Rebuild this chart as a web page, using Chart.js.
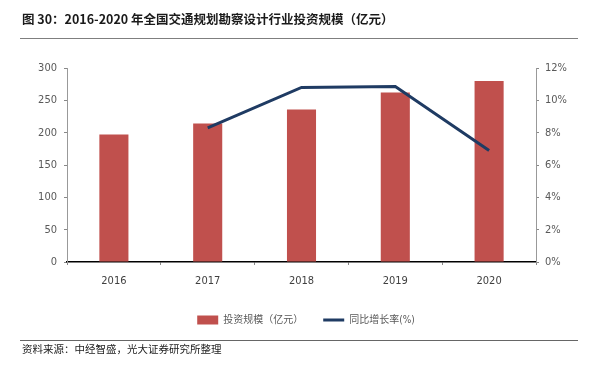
<!DOCTYPE html>
<html>
<head>
<meta charset="utf-8">
<script src="https://cdn.jsdelivr.net/npm/chart.js@4.4.1/dist/chart.umd.min.js"></script>
<style>
    html, body { margin: 0; padding: 0; background: #fff; }
    #wrap { position: relative; width: 595px; height: 372px; overflow: hidden; }
    #chart { position: absolute; left: 0; top: 0; }
    .title {
        position: absolute; left: 22px; top: 9px;
        font: bold 12.5px 'Noto Sans CJK SC', 'Noto Sans', sans-serif; color: #1a1a1a;
        white-space: nowrap;
    }
    .rule { position: absolute; left: 20px; width: 558px; }
    .source {
        position: absolute; left: 22px; top: 341px;
        font: 10.5px 'Noto Sans CJK SC', sans-serif; color: #222; white-space: nowrap;
    }
</style>
</head>
<body>
<div id="wrap">
    <canvas id="chart" width="595" height="372"></canvas>
    <div class="title">图 30：2016-2020 年全国交通规划勘察设计行业投资规模（亿元）</div>
    <div class="rule" style="top:38px;border-top:1.5px solid #7f7f7f;"></div>
    <div class="rule" style="top:340px;border-top:1px solid #666;"></div>
    <div class="source">资料来源：中经智盛，光大证券研究所整理</div>
</div>
<script>
    // --- data ---
    const years = ['2016', '2017', '2018', '2019', '2020'];
    const investScale = [197, 214, 236, 262, 280];        // 亿元
    const growthRate = [null, 8.3, 10.8, 10.85, 6.9];      // %
    const leftTicks = [0, 50, 100, 150, 200, 250, 300];
    const rightTicks = [0, 2, 4, 6, 8, 10, 12];
    const seriesNames = ['投资规模（亿元）', '同比增长率(%)'];

    const barColor = '#C0504D';
    const lineColor = '#1F3B63';
    const narrowFamily = "'Liberation Sans Narrow', 'DejaVu Sans Condensed', 'Liberation Sans', 'Noto Sans CJK SC', sans-serif";
    const tickFont = { family: narrowFamily, size: 11 };

    const ctx = document.getElementById('chart').getContext('2d');
    new Chart(ctx, {
        data: {
            labels: years,
            datasets: [
                {
                    type: 'bar',
                    label: seriesNames[0],
                    data: investScale,
                    backgroundColor: barColor,
                    borderWidth: 0,
                    categoryPercentage: 1,
                    barPercentage: 0.31,
                    yAxisID: 'y',
                    order: 2
                },
                {
                    type: 'line',
                    label: seriesNames[1],
                    data: growthRate,
                    borderColor: lineColor,
                    borderWidth: 3,
                    pointRadius: 0,
                    tension: 0,
                    yAxisID: 'y1',
                    order: 1
                }
            ]
        },
        options: {
            responsive: false,
            animation: false,
            layout: { padding: { top: 68, left: 17, right: 0, bottom: 37 } },
            plugins: {
                tooltip: { enabled: false },
                legend: {
                    position: 'bottom',
                    labels: {
                        color: '#595959',
                        font: { family: narrowFamily, size: 10 },
                        usePointStyle: true,
                        pointStyleWidth: 21,
                        boxWidth: 21,
                        boxHeight: 9,
                        padding: 20,
                        generateLabels: function(chart) {
                            // bar first, line second, like the reference
                            return [
                                { text: seriesNames[0], fillStyle: barColor, strokeStyle: barColor, lineWidth: 0, pointStyle: 'rect', datasetIndex: 0, fontColor: '#595959' },
                                { text: seriesNames[1], fillStyle: lineColor, strokeStyle: lineColor, lineWidth: 3, pointStyle: 'line', datasetIndex: 1, fontColor: '#595959' }
                            ];
                        }
                    }
                }
            },
            scales: {
                x: {
                    grid: { display: true, drawOnChartArea: false, tickLength: 3, color: '#888' },
                    border: { color: '#000', width: 1.5 },
                    ticks: { color: '#404040', font: tickFont, padding: 10 },
                    afterFit: function(s) { s.height = 33; }
                },
                y: {
                    position: 'left',
                    min: 0, max: 300,
                    afterBuildTicks: function(s) { s.ticks = leftTicks.map(v => ({ value: v })); },
                    grid: { drawOnChartArea: false, tickLength: 3, color: '#888' },
                    border: { color: '#999' },
                    ticks: { color: '#595959', font: tickFont, padding: 7 },
                    afterFit: function(s) { s.width = 50; }
                },
                y1: {
                    position: 'right',
                    min: 0, max: 12,
                    afterBuildTicks: function(s) { s.ticks = rightTicks.map(v => ({ value: v })); },
                    grid: { drawOnChartArea: false, tickLength: 3, color: '#888' },
                    border: { color: '#999' },
                    ticks: { color: '#595959', font: tickFont, padding: 6, callback: v => v + '%' },
                    afterFit: function(s) { s.width = 59; }
                }
            }
        }
    });
</script>
</body>
</html>
